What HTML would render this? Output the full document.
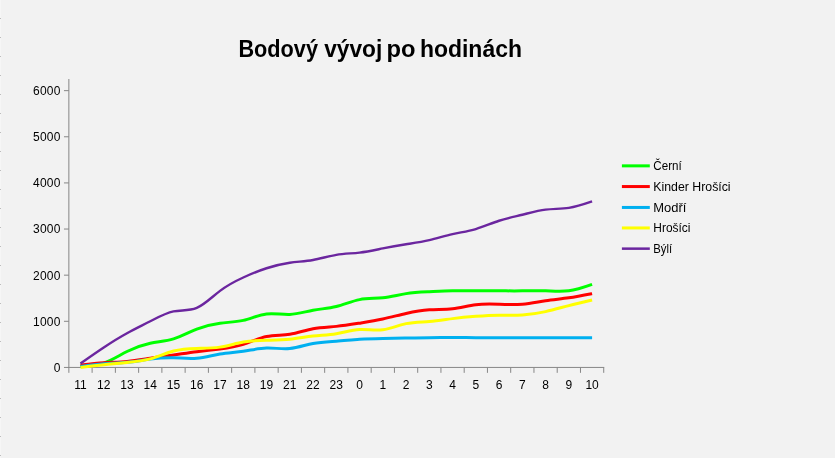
<!DOCTYPE html>
<html lang="cs"><head><meta charset="utf-8"><title>Bodový vývoj po hodinách</title>
<style>
html,body{margin:0;padding:0;}
body{width:835px;height:458px;background:#f2f2f2;overflow:hidden;position:relative;font-family:"Liberation Sans",sans-serif;}
</style></head><body>
<svg width="835" height="458" viewBox="0 0 835 458" style="position:absolute;left:0;top:0;will-change:transform">
<rect x="0" y="0" width="1" height="458" fill="#f6f6f6"/>
<rect x="0" y="18" width="1" height="1" fill="#bcbcbc"/>
<rect x="0" y="37" width="1" height="1" fill="#bcbcbc"/>
<rect x="0" y="56" width="1" height="1" fill="#bcbcbc"/>
<rect x="0" y="75" width="1" height="1" fill="#bcbcbc"/>
<rect x="0" y="94" width="1" height="1" fill="#bcbcbc"/>
<rect x="0" y="113" width="1" height="1" fill="#bcbcbc"/>
<rect x="0" y="132" width="1" height="1" fill="#bcbcbc"/>
<rect x="0" y="151" width="1" height="1" fill="#bcbcbc"/>
<rect x="0" y="170" width="1" height="1" fill="#bcbcbc"/>
<rect x="0" y="189" width="1" height="1" fill="#bcbcbc"/>
<rect x="0" y="208" width="1" height="1" fill="#bcbcbc"/>
<rect x="0" y="227" width="1" height="1" fill="#bcbcbc"/>
<rect x="0" y="246" width="1" height="1" fill="#bcbcbc"/>
<rect x="0" y="265" width="1" height="1" fill="#bcbcbc"/>
<rect x="0" y="284" width="1" height="1" fill="#bcbcbc"/>
<rect x="0" y="303" width="1" height="1" fill="#bcbcbc"/>
<rect x="0" y="322" width="1" height="1" fill="#bcbcbc"/>
<rect x="0" y="341" width="1" height="1" fill="#bcbcbc"/>
<rect x="0" y="360" width="1" height="1" fill="#bcbcbc"/>
<rect x="0" y="379" width="1" height="1" fill="#bcbcbc"/>
<rect x="0" y="398" width="1" height="1" fill="#bcbcbc"/>
<rect x="0" y="417" width="1" height="1" fill="#bcbcbc"/>
<rect x="0" y="436" width="1" height="1" fill="#bcbcbc"/>
<rect x="0" y="455" width="1" height="1" fill="#bcbcbc"/>
<g stroke="#868686" stroke-width="1" fill="none">
<line x1="68.87" y1="79" x2="68.87" y2="367.93"/>
<line x1="68.37" y1="367.43" x2="604.22" y2="367.43"/>
<line x1="63.97" y1="367.43" x2="68.87" y2="367.43"/>
<line x1="63.97" y1="321.30" x2="68.87" y2="321.30"/>
<line x1="63.97" y1="275.17" x2="68.87" y2="275.17"/>
<line x1="63.97" y1="229.04" x2="68.87" y2="229.04"/>
<line x1="63.97" y1="182.91" x2="68.87" y2="182.91"/>
<line x1="63.97" y1="136.78" x2="68.87" y2="136.78"/>
<line x1="63.97" y1="90.65" x2="68.87" y2="90.65"/>
<line x1="68.87" y1="367.43" x2="68.87" y2="372.83"/>
<line x1="92.12" y1="367.43" x2="92.12" y2="372.83"/>
<line x1="115.38" y1="367.43" x2="115.38" y2="372.83"/>
<line x1="138.63" y1="367.43" x2="138.63" y2="372.83"/>
<line x1="161.89" y1="367.43" x2="161.89" y2="372.83"/>
<line x1="185.14" y1="367.43" x2="185.14" y2="372.83"/>
<line x1="208.40" y1="367.43" x2="208.40" y2="372.83"/>
<line x1="231.65" y1="367.43" x2="231.65" y2="372.83"/>
<line x1="254.90" y1="367.43" x2="254.90" y2="372.83"/>
<line x1="278.16" y1="367.43" x2="278.16" y2="372.83"/>
<line x1="301.41" y1="367.43" x2="301.41" y2="372.83"/>
<line x1="324.67" y1="367.43" x2="324.67" y2="372.83"/>
<line x1="347.92" y1="367.43" x2="347.92" y2="372.83"/>
<line x1="371.18" y1="367.43" x2="371.18" y2="372.83"/>
<line x1="394.43" y1="367.43" x2="394.43" y2="372.83"/>
<line x1="417.69" y1="367.43" x2="417.69" y2="372.83"/>
<line x1="440.94" y1="367.43" x2="440.94" y2="372.83"/>
<line x1="464.19" y1="367.43" x2="464.19" y2="372.83"/>
<line x1="487.45" y1="367.43" x2="487.45" y2="372.83"/>
<line x1="510.70" y1="367.43" x2="510.70" y2="372.83"/>
<line x1="533.96" y1="367.43" x2="533.96" y2="372.83"/>
<line x1="557.21" y1="367.43" x2="557.21" y2="372.83"/>
<line x1="580.47" y1="367.43" x2="580.47" y2="372.83"/>
<line x1="603.72" y1="367.43" x2="603.72" y2="372.83"/>
</g>
<path d="M80.50 366.05 C88.25 365.85 96.00 365.66 103.75 363.05 C111.50 360.44 119.25 355.42 127.01 351.52 C134.76 347.61 142.51 344.82 150.26 343.21 C158.01 341.60 165.76 341.17 173.51 338.83 C181.27 336.49 189.02 332.24 196.77 329.14 C204.52 326.05 212.27 324.11 220.02 323.15 C227.77 322.18 235.53 322.20 243.28 320.38 C251.03 318.55 258.78 314.88 266.53 313.92 C274.28 312.96 282.03 314.71 289.79 314.38 C297.54 314.05 305.29 311.62 313.04 310.23 C320.79 308.83 328.54 308.47 336.30 306.54 C344.05 304.61 351.80 301.12 359.55 299.62 C367.30 298.12 375.05 298.60 382.80 297.77 C390.56 296.95 398.31 294.83 406.06 293.62 C413.81 292.42 421.56 292.13 429.31 291.78 C437.06 291.42 444.82 291.01 452.57 290.85 C460.32 290.70 468.07 290.82 475.82 290.85 C483.57 290.89 491.32 290.85 499.08 290.85 C506.83 290.86 514.58 290.92 522.33 290.85 C530.08 290.79 537.83 290.59 545.58 290.85 C553.34 291.12 561.09 291.85 568.84 290.85 C576.59 289.86 584.34 287.13 592.09 284.40" fill="none" stroke="#00ff00" stroke-width="3.0" stroke-linejoin="round"/>
<path d="M80.50 365.12 C88.25 364.23 96.00 363.33 103.75 362.82 C111.50 362.30 119.25 362.17 127.01 361.43 C134.76 360.70 142.51 359.37 150.26 358.20 C158.01 357.04 165.76 356.05 173.51 354.97 C181.27 353.90 189.02 352.73 196.77 351.75 C204.52 350.76 212.27 349.96 220.02 348.98 C227.77 347.99 235.53 346.83 243.28 344.37 C251.03 341.90 258.78 338.15 266.53 336.52 C274.28 334.90 282.03 335.40 289.79 334.22 C297.54 333.04 305.29 330.17 313.04 328.68 C320.79 327.19 328.54 327.07 336.30 326.37 C344.05 325.68 351.80 324.40 359.55 323.15 C367.30 321.89 375.05 320.66 382.80 318.99 C390.56 317.32 398.31 315.22 406.06 313.46 C413.81 311.70 421.56 310.29 429.31 309.77 C437.06 309.24 444.82 309.60 452.57 308.71 C460.32 307.81 468.07 305.65 475.82 304.69 C483.57 303.73 491.32 303.97 499.08 304.23 C506.83 304.50 514.58 304.79 522.33 304.14 C530.08 303.48 537.83 301.88 545.58 300.73 C553.34 299.58 561.09 298.88 568.84 297.77 C576.59 296.67 584.34 295.14 592.09 293.62" fill="none" stroke="#ff0000" stroke-width="3.0" stroke-linejoin="round"/>
<path d="M80.50 366.51 C88.25 365.41 96.00 364.31 103.75 363.74 C111.50 363.17 119.25 363.11 127.01 362.36 C134.76 361.60 142.51 360.14 150.26 359.13 C158.01 358.12 165.76 357.56 173.51 357.74 C181.27 357.93 189.02 358.85 196.77 358.20 C204.52 357.56 212.27 355.34 220.02 354.05 C227.77 352.76 235.53 352.40 243.28 351.28 C251.03 350.17 258.78 348.29 266.53 348.06 C274.28 347.82 282.03 349.23 289.79 348.52 C297.54 347.81 305.29 344.98 313.04 343.44 C320.79 341.91 328.54 341.66 336.30 341.14 C344.05 340.61 351.80 339.79 359.55 339.29 C367.30 338.79 375.05 338.60 382.80 338.46 C390.56 338.32 398.31 338.22 406.06 338.09 C413.81 337.97 421.56 337.82 429.31 337.72 C437.06 337.63 444.82 337.59 452.57 337.58 C460.32 337.58 468.07 337.62 475.82 337.63 C483.57 337.64 491.32 337.63 499.08 337.63 C506.83 337.63 514.58 337.63 522.33 337.63 C530.08 337.63 537.83 337.63 545.58 337.63 C553.34 337.63 561.09 337.63 568.84 337.63 C576.59 337.63 584.34 337.63 592.09 337.63" fill="none" stroke="#00b0f0" stroke-width="3.0" stroke-linejoin="round"/>
<path d="M80.50 367.43 C88.25 366.46 96.00 365.49 103.75 364.66 C111.50 363.83 119.25 363.14 127.01 362.45 C134.76 361.76 142.51 361.06 150.26 358.90 C158.01 356.73 165.76 353.09 173.51 351.05 C181.27 349.02 189.02 348.60 196.77 348.42 C204.52 348.25 212.27 348.33 220.02 347.13 C227.77 345.93 235.53 343.45 243.28 342.06 C251.03 340.67 258.78 340.36 266.53 340.21 C274.28 340.07 282.03 340.08 289.79 339.29 C297.54 338.51 305.29 336.93 313.04 336.06 C320.79 335.20 328.54 335.05 336.30 333.76 C344.05 332.46 351.80 330.02 359.55 329.60 C367.30 329.19 375.05 330.81 382.80 329.83 C390.56 328.86 398.31 325.30 406.06 323.61 C413.81 321.92 421.56 322.10 429.31 321.53 C437.06 320.96 444.82 319.64 452.57 318.62 C460.32 317.61 468.07 316.90 475.82 316.32 C483.57 315.74 491.32 315.29 499.08 315.21 C506.83 315.13 514.58 315.43 522.33 314.98 C530.08 314.53 537.83 313.34 545.58 311.61 C553.34 309.89 561.09 307.63 568.84 305.62 C576.59 303.60 584.34 301.84 592.09 300.08" fill="none" stroke="#ffff00" stroke-width="3.0" stroke-linejoin="round"/>
<path d="M80.50 363.51 C88.25 358.07 96.00 352.63 103.75 347.50 C111.50 342.37 119.25 337.55 127.01 333.29 C134.76 329.03 142.51 325.33 150.26 321.30 C158.01 317.27 165.76 312.90 173.51 311.38 C181.27 309.87 189.02 311.20 196.77 307.92 C204.52 304.65 212.27 296.76 220.02 290.85 C227.77 284.95 235.53 281.02 243.28 277.48 C251.03 273.93 258.78 270.78 266.53 268.25 C274.28 265.72 282.03 263.82 289.79 262.71 C297.54 261.61 305.29 261.31 313.04 259.95 C320.79 258.58 328.54 256.15 336.30 254.87 C344.05 253.60 351.80 253.48 359.55 252.57 C367.30 251.65 375.05 249.95 382.80 248.41 C390.56 246.88 398.31 245.51 406.06 244.26 C413.81 243.02 421.56 241.90 429.31 240.11 C437.06 238.32 444.82 235.87 452.57 234.11 C460.32 232.36 468.07 231.31 475.82 229.04 C483.57 226.77 491.32 223.27 499.08 220.74 C506.83 218.20 514.58 216.63 522.33 214.74 C530.08 212.85 537.83 210.63 545.58 209.67 C553.34 208.70 561.09 209.00 568.84 207.82 C576.59 206.64 584.34 203.98 592.09 201.32" fill="none" stroke="#6b269f" stroke-width="2.4" stroke-linejoin="round"/>
<g font-family="'Liberation Sans', sans-serif" font-size="12" fill="#000">
<text x="60.6" y="371.7" text-anchor="end" letter-spacing="0.2">0</text>
<text x="60.6" y="325.6" text-anchor="end" letter-spacing="0.2">1000</text>
<text x="60.6" y="279.5" text-anchor="end" letter-spacing="0.2">2000</text>
<text x="60.6" y="233.3" text-anchor="end" letter-spacing="0.2">3000</text>
<text x="60.6" y="187.2" text-anchor="end" letter-spacing="0.2">4000</text>
<text x="60.6" y="141.1" text-anchor="end" letter-spacing="0.2">5000</text>
<text x="60.6" y="95.0" text-anchor="end" letter-spacing="0.2">6000</text>
<text x="80.5" y="389" text-anchor="middle">11</text>
<text x="103.8" y="389" text-anchor="middle">12</text>
<text x="127.0" y="389" text-anchor="middle">13</text>
<text x="150.3" y="389" text-anchor="middle">14</text>
<text x="173.5" y="389" text-anchor="middle">15</text>
<text x="196.8" y="389" text-anchor="middle">16</text>
<text x="220.0" y="389" text-anchor="middle">17</text>
<text x="243.3" y="389" text-anchor="middle">18</text>
<text x="266.5" y="389" text-anchor="middle">19</text>
<text x="289.8" y="389" text-anchor="middle">21</text>
<text x="313.0" y="389" text-anchor="middle">22</text>
<text x="336.3" y="389" text-anchor="middle">23</text>
<text x="359.5" y="389" text-anchor="middle">0</text>
<text x="382.8" y="389" text-anchor="middle">1</text>
<text x="406.1" y="389" text-anchor="middle">2</text>
<text x="429.3" y="389" text-anchor="middle">3</text>
<text x="452.6" y="389" text-anchor="middle">4</text>
<text x="475.8" y="389" text-anchor="middle">5</text>
<text x="499.1" y="389" text-anchor="middle">6</text>
<text x="522.3" y="389" text-anchor="middle">7</text>
<text x="545.6" y="389" text-anchor="middle">8</text>
<text x="568.8" y="389" text-anchor="middle">9</text>
<text x="592.1" y="389" text-anchor="middle">10</text>
<text x="653.3" y="169.9" textLength="28.4" lengthAdjust="spacingAndGlyphs">Černí</text>
<text x="653.3" y="190.6" textLength="77.3" lengthAdjust="spacingAndGlyphs">Kinder Hrošíci</text>
<text x="653.3" y="211.5" textLength="33.1" lengthAdjust="spacingAndGlyphs">Modří</text>
<text x="653.3" y="232.0" textLength="37.2" lengthAdjust="spacingAndGlyphs">Hrošíci</text>
<text x="653.3" y="252.7" textLength="18.9" lengthAdjust="spacingAndGlyphs">Býlí</text>
</g>
<rect x="621.9" y="164.35" width="27.9" height="3.0" fill="#00ff00"/>
<rect x="621.9" y="185.05" width="27.9" height="3.0" fill="#ff0000"/>
<rect x="621.9" y="205.95" width="27.9" height="3.0" fill="#00b0f0"/>
<rect x="621.9" y="226.45" width="27.9" height="3.0" fill="#ffff00"/>
<rect x="621.9" y="247.40" width="27.9" height="2.5" fill="#6b269f"/>
<g font-family="'Liberation Sans', sans-serif" font-weight="bold" font-size="23" fill="#000">
<text x="238.4" y="56.7" textLength="79.6" lengthAdjust="spacingAndGlyphs">Bodový</text>
<text x="324.2" y="56.7" textLength="58.1" lengthAdjust="spacingAndGlyphs">vývoj</text>
<text x="386.5" y="56.7" textLength="29.0" lengthAdjust="spacingAndGlyphs">po</text>
<text x="419.9" y="56.7" textLength="102.1" lengthAdjust="spacingAndGlyphs">hodinách</text>
</g>
</svg>
</body></html>
